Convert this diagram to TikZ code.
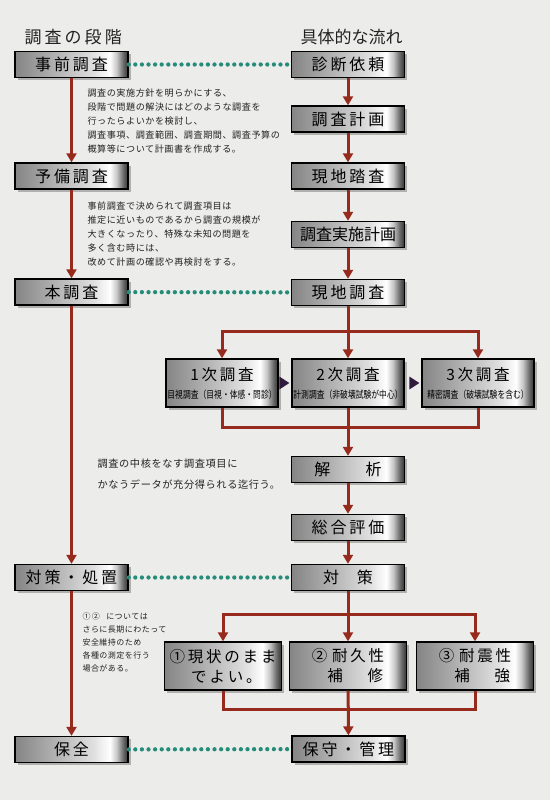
\documentclass[tikz,border=0pt]{standalone}
\usepackage{fontspec}
\setmainfont{Noto Sans CJK JP}
\newfontfamily\boxfont[LetterSpace=18]{Noto Sans CJK JP}
\newfontfamily\subfont[FakeStretch=0.78]{Noto Sans CJK JP}
\newfontfamily\notefont[LetterSpace=6]{Noto Sans CJK JP}
\usetikzlibrary{arrows.meta,positioning,shadows,calc}
\definecolor{bgcol}{RGB}{236,236,234}
\definecolor{flowred}{RGB}{150,42,28}
\definecolor{dotteal}{RGB}{38,140,122}
\definecolor{tridark}{RGB}{48,26,62}
\definecolor{inkgray}{RGB}{34,34,34}
\pgfdeclarehorizontalshading{steelshade}{100bp}{color(0bp)=(black!48); color(25bp)=(black!48); color(45bp)=(black!28); color(60bp)=(black!12); color(67bp)=(white); color(70bp)=(black!22); color(73bp)=(black!60); color(75bp)=(black!80); color(100bp)=(black!80)}

\begin{document}
\begin{tikzpicture}[x=1pt,y=-1pt,
  stepbox/.style={draw=black,line width=1.4pt,shading=steelshade,
    drop shadow={shadow xshift=2.5pt,shadow yshift=-2.5pt,opacity=0.55},
    minimum width=113pt,minimum height=26pt,inner sep=0pt,
    font=\boxfont\fontsize{16}{18}\selectfont},
  kindbox/.style={stepbox,minimum width=112pt,minimum height=48pt,align=center,
    font=\boxfont\fontsize{15.5}{17}\selectfont},
  endbox/.style={stepbox,minimum width=117pt,minimum height=48pt,align=left,
    font=\boxfont\fontsize{15.5}{20}\selectfont},
  flow/.style={draw=flowred,line width=3pt,-{Triangle[length=9pt,width=10pt]}},
  flowline/.style={draw=flowred,line width=3pt},
  link/.style={draw=dotteal,line width=4.3pt,line cap=round,dash pattern=on 0pt off 6.6pt},
  note/.style={anchor=west,text=inkgray,align=left},
  heading/.style={anchor=west,text=inkgray,font=\fontsize{17}{20}\selectfont}]

  % background
  \fill[bgcol] (0,0) rectangle (550,800);
  \useasboundingbox (0,0) rectangle (550,800);

  % Stage column
  \node[heading] (stagehead) at (21,37) {\boxfont 調査の段階};
  \node[stepbox] (jizen) at (71.5,64.5) {事前調査};
  \node[stepbox] (yobi) at (71.5,176) {予備調査};
  \node[stepbox] (hon) at (71.5,292) {本調査};
  \node[stepbox] (taiL) at (71.5,577.5) {対策・処置};
  \node[stepbox] (hozen) at (71.5,749.5) {保全};

  % Flow column
  \node[heading] (flowhead) at (297,37) {具体的な流れ};
  \node[stepbox] (irai) at (348,64.5) {診断依頼};
  \node[stepbox] (keikaku) at (348,119) {調査計画};
  \node[stepbox] (tousa) at (348,176) {現地踏査};
  \node[stepbox] (jisshi) at (348,234.5) {\rmfamily 調査実施計画};
  \node[stepbox] (genchi) at (348,292.5) {現地調査};

  % three kinds of survey
  \node[kindbox] (ichiji) at (222,383) {1次調査\\[1pt]{\subfont\fontsize{10}{12}\selectfont 目視調査（目視・体感・問診）}};
  \node[kindbox] (nikai) at (348,383) {2次調査\\[1pt]{\subfont\fontsize{10}{12}\selectfont 計測調査（非破壊試験が中心）}};
  \node[kindbox] (sanji) at (478,383) {3次調査\\[1pt]{\subfont\fontsize{10}{12}\selectfont 精密調査（破壊試験を含む）}};

  \node[stepbox] (kaiseki) at (348,469.5) {解\hspace{2.2em}析};
  \node[stepbox] (sougou) at (348,527.5) {総合評価};
  \node[stepbox] (taiR) at (348,577.5) {対\hspace{1.1em}策};

  % three kinds of measure
  \node[endbox] (genjou) at (223,666) {①現状のまま\\\hspace{1.4em}でよい。};
  \node[endbox] (taikyu) at (348,666) {②\hspace{.3em}耐久性\\\hspace{1em}補\hspace{1.6em}修};
  \node[endbox] (taishin) at (475,666) {③\hspace{.3em}耐震性\\\hspace{1em}補\hspace{1.6em}強};
  \node[stepbox] (hoshu) at (348.5,749) {保守・管理};

  % Notes
  \node[note,font=\notefont\fontsize{9.1}{14}\selectfont] (note1) at (84,121)
    {調査の実施方針を明らかにする、\\段階で問題の解決にはどのような調査を\\行ったらよいかを検討し、\\調査事項、調査範囲、調査期間、調査予算の\\概算等について計画書を作成する。};
  \node[note,font=\notefont\fontsize{9.1}{14}\selectfont] (note2) at (84,234)
    {事前調査で決められて調査項目は\\推定に近いものであるから調査の規模が\\大きくなったり、特殊な未知の問題を\\多く含む時には、\\改めて計画の確認や再検討をする。};
  \node[note,font=\notefont\fontsize{10.2}{21}\selectfont] (note3) at (94,474.5)
    {調査の中核をなす調査項目に\\かなうデータが充分得られる迄行う。};
  \node[note,font=\notefont\fontsize{8}{12.8}\selectfont] (note4) at (79,642.5)
    {①\,②\hspace{0.8em}については\\さらに長期にわたって\\安全維持のため\\各種の測定を行う\\場合がある。};

  % Stage arrows
  \draw[flow] (jizen) -- (yobi);
  \draw[flow] (yobi) -- (hon);
  \draw[flow] (hon) -- (taiL);
  \draw[flow] (taiL) -- (hozen);

  % Flow arrows
  \draw[flow] (irai) -- (keikaku);
  \draw[flow] (keikaku) -- (tousa);
  \draw[flow] (tousa) -- (jisshi);
  \draw[flow] (jisshi) -- (genchi);

  % first branch
  \coordinate (split1) at (348,331);
  \coordinate (merge1) at (348,427);
  \draw[flow] (genchi) -- (nikai);
  \draw[flow] (split1) -| (ichiji.north);
  \draw[flow] (split1) -| (sanji.north);
  \draw[flowline] (ichiji.south) |- (merge1);
  \draw[flowline] (sanji.south) |- (merge1);
  \draw[flow] (nikai) -- (kaiseki);
  \fill[tridark] ($(nikai.west)+(-2,0)$) -- ($(nikai.west)+(-12,-6.5)$) -- ($(nikai.west)+(-12,6.5)$) -- cycle;
  \fill[tridark] ($(sanji.west)+(-2,0)$) -- ($(sanji.west)+(-12,-6.5)$) -- ($(sanji.west)+(-12,6.5)$) -- cycle;

  \draw[flow] (kaiseki) -- (sougou);
  \draw[flow] (sougou) -- (taiR);

  % second branch
  \coordinate (split2) at (348,614);
  \coordinate (merge2) at (348,709);
  \draw[flow] (taiR) -- (taikyu);
  \draw[flow] (split2) -| (genjou.north);
  \draw[flow] (split2) -| (taishin.north);
  \draw[flowline] (genjou.south) |- (merge2);
  \draw[flowline] (taishin.south) |- (merge2);
  \draw[flow] (taikyu) -- (hoshu);

  % Correspondence links
  \draw[link] (jizen) -- (irai);
  \draw[link] (hon) -- (genchi);
  \draw[link] (taiL) -- (taiR);
  \draw[link] (hozen) -- (hoshu);
\end{tikzpicture}
\end{document}
